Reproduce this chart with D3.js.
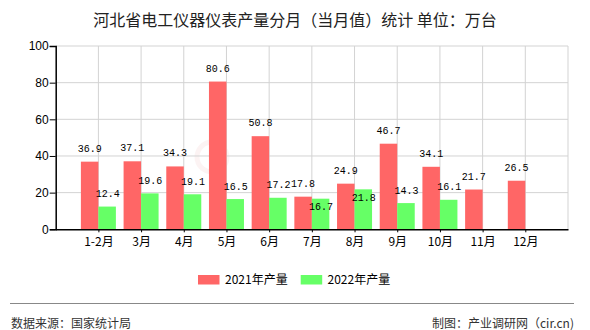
<!DOCTYPE html>
<html><head><meta charset="utf-8">
<script src="https://cdn.jsdelivr.net/npm/d3@7"></script>
<style>body{margin:0;background:#fff}svg{display:block}</style>
</head><body>
<script>
const title = "河北省电工仪器仪表产量分月（当月值）统计 单位：万台";
const categories = ["1-2月","3月","4月","5月","6月","7月","8月","9月","10月","11月","12月"];
const series2021 = [36.9,37.1,34.3,80.6,50.8,17.8,24.9,46.7,34.1,21.7,26.5];
const series2022 = [12.4,19.6,19.1,16.5,17.2,16.7,21.8,14.3,16.1,null,null];
const seriesNames = ["2021年产量","2022年产量"];
const colors = ["#ff6666","#66ff66"];
const yTicks = [0,20,40,60,80,100];
const source = "数据来源：国家统计局";
const credit = "制图：产业调研网（cir.cn)";

const W=590,H=330;
const svg=d3.select("body").append("svg").attr("width",W).attr("height",H);
const m={l:55.7,r:568,t:46,b:229.3};
const x=d3.scaleLinear().domain([0,categories.length+1]).range([m.l,m.r]);
const y=d3.scaleLinear().domain([0,100]).range([m.b,m.t]);
const bw=17.5;

// faint watermark
const wm=svg.append("g").attr("opacity",0.35);
wm.append("circle").attr("cx",212).attr("cy",157).attr("r",15).attr("fill","none").attr("stroke","#f6dede").attr("stroke-width",5);

// grid
const grid=svg.append("g").attr("stroke","#d3d3d3").attr("stroke-width",1);
yTicks.filter(d=>d>0).forEach(d=>grid.append("line").attr("x1",m.l).attr("x2",m.r).attr("y1",y(d)).attr("y2",y(d)));
d3.range(1,categories.length+2).forEach(i=>grid.append("line").attr("x1",x(i)).attr("x2",x(i)).attr("y1",m.t).attr("y2",m.b));

// bars
const g=svg.append("g");
categories.forEach((c,i)=>{
  const cx=x(i+1);
  const v1=series2021[i], v2=series2022[i];
  if(v1!=null) g.append("rect").attr("x",cx-bw).attr("y",y(v1)).attr("width",bw).attr("height",y(0)-y(v1)).attr("fill",colors[0]);
  if(v2!=null) g.append("rect").attr("x",cx).attr("y",y(v2)).attr("width",bw).attr("height",y(0)-y(v2)).attr("fill",colors[1]);
});

// labels
const lab=svg.append("g").attr("font-family","Liberation Mono, DejaVu Sans Mono, monospace").attr("font-size",10).attr("fill","#000").attr("text-anchor","middle");
categories.forEach((c,i)=>{
  const cx=x(i+1);
  const v1=series2021[i], v2=series2022[i];
  let y1=null;
  if(v1!=null){ y1=y(v1)-13.5; lab.append("text").attr("x",cx-bw/2).attr("y",y1).attr("dy","0.35em").text(v1.toFixed(1)); }
  if(v2!=null){
    let y2=y(v2)-13;
    if(y1!=null && Math.abs(y2-y1)<11) y2=y(v2)+8;
    lab.append("text").attr("x",cx+bw/2+0.5).attr("y",y2).attr("dy","0.35em").text(v2.toFixed(1));
  }
});

// y axis
const ya=svg.append("g").attr("transform",`translate(${m.l},0)`).call(d3.axisLeft(y).tickValues(yTicks).tickSize(6).tickPadding(1));
ya.selectAll("text").attr("font-family","Liberation Sans, Arial").attr("font-size",12).attr("fill","#000");
ya.selectAll("line,path").attr("stroke","#000");
ya.select("path").attr("stroke-width",1.5);

// x axis
const xa=svg.append("g").attr("transform",`translate(0,${m.b})`).call(
  d3.axisBottom(x).tickValues(d3.range(1,categories.length+1)).tickFormat(i=>categories[i-1]).tickSize(3).tickSizeOuter(0).tickPadding(5));
xa.selectAll("text").attr("font-family","Noto Sans CJK SC").attr("font-size",12).attr("fill","#000");
xa.selectAll("line,path").attr("stroke","#000");
xa.select("path").attr("stroke-width",1.5);

// title
svg.append("text").attr("x",295).attr("y",20).attr("dy","0.35em").attr("text-anchor","middle")
  .attr("font-family","Noto Sans CJK SC").attr("font-size",16).attr("fill","#222").text(title);

// legend
const lg=svg.append("g").attr("font-family","Noto Sans CJK SC").attr("font-size",12).attr("fill","#000");
[[198,225],[300.7,327.5]].forEach((p,k)=>{
  lg.append("rect").attr("x",p[0]).attr("y",275).attr("width",21.5).attr("height",9.5).attr("fill",colors[k]);
  lg.append("text").attr("x",p[1]).attr("y",279.5).attr("dy","0.35em").text(seriesNames[k]);
});

// footer
svg.append("line").attr("x1",10).attr("x2",574).attr("y1",303.5).attr("y2",303.5).attr("stroke","#888").attr("stroke-width",1);
svg.append("text").attr("x",11).attr("y",323.5).attr("dy","0.35em").attr("font-family","Noto Sans CJK SC").attr("font-size",12).attr("fill","#333").text(source);
svg.append("text").attr("x",574).attr("y",323.5).attr("dy","0.35em").attr("text-anchor","end").attr("font-family","Noto Sans CJK SC").attr("font-size",12).attr("fill","#333").text(credit);
</script>
</body></html>
